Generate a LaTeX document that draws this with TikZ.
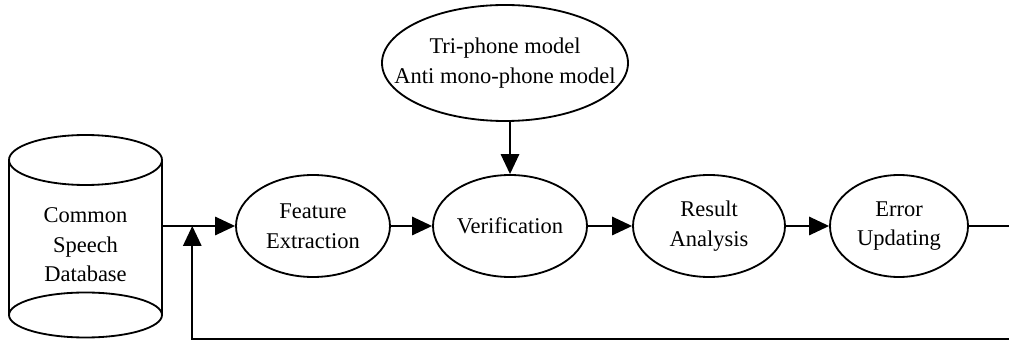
\documentclass[tikz,border=0pt]{standalone}
\usepackage{fontspec}
\setmainfont{Liberation Serif}
\usepackage{tikz}
\usetikzlibrary{shapes}
\usetikzlibrary{arrows.meta}

\begin{document}
\begin{tikzpicture}[
ovalnode/.style={ellipse, draw, line width=1.3pt, align=center, inner xsep=-3mm, inner ysep=0pt, minimum width=38.5mm, minimum height=25.5mm, font=\fontsize{16}{21}\selectfont},
bigovalnode/.style={ellipse, draw, line width=1.3pt, align=center, inner xsep=-8mm, inner ysep=0pt, minimum width=61.5mm, minimum height=29mm, font=\fontsize{16}{21}\selectfont},
dbtextnode/.style={rectangle, align=center, minimum width=38.25mm, font=\fontsize{16}{21}\selectfont},
flow/.style={->, line width=1.3pt},
>={Triangle[length=5mm,width=4.6mm]}
]
\useasboundingbox (0,0) rectangle (25.225,-8.525);
\clip (0,0) rectangle (25.225,-8.525);

%Database cylinder
\draw[line width=1.3pt] (0.225,-4) -- (0.225,-7.875);
\draw[line width=1.3pt] (4.05,-4) -- (4.05,-7.875);
\draw[line width=1.3pt] (2.1375,-4) ellipse (1.9125 and 0.625);
\draw[line width=1.3pt] (2.1375,-7.875) ellipse (1.9125 and 0.5625);

%Nodes
\node[dbtextnode] at (2.1375,-6.125) (DB) {Common\\Speech\\Database};
\node[ovalnode] at (7.825,-5.65) (FE) {Feature\\Extraction};
\node[ovalnode] at (12.75,-5.65) (VER) {Verification};
\node[ovalnode, minimum width=38mm] at (17.725,-5.65) (RA) {Result\\Analysis};
\node[ovalnode, minimum width=34.5mm] at (22.475,-5.65) (EU) {Error\\Updating};
\node[bigovalnode] at (12.625,-1.575) (TP) {Tri-phone model\\Anti mono-phone model};

\coordinate (J) at ([xshift=7.5mm]DB.east |- FE.west);
\coordinate (CORNER) at (25.6,-8.48);

%Lines
\draw[flow] (DB.east |- FE.west) -- (FE.west);
\draw[flow] (FE.east) -- (VER.west);
\draw[flow] (VER.east) -- (RA.west);
\draw[flow] (RA.east) -- (EU.west);
\draw[flow] (TP.south -| VER.north) -- (VER.north);
\draw[flow] (EU.east) -| (CORNER) -| (J);
\end{tikzpicture}
\end{document}
